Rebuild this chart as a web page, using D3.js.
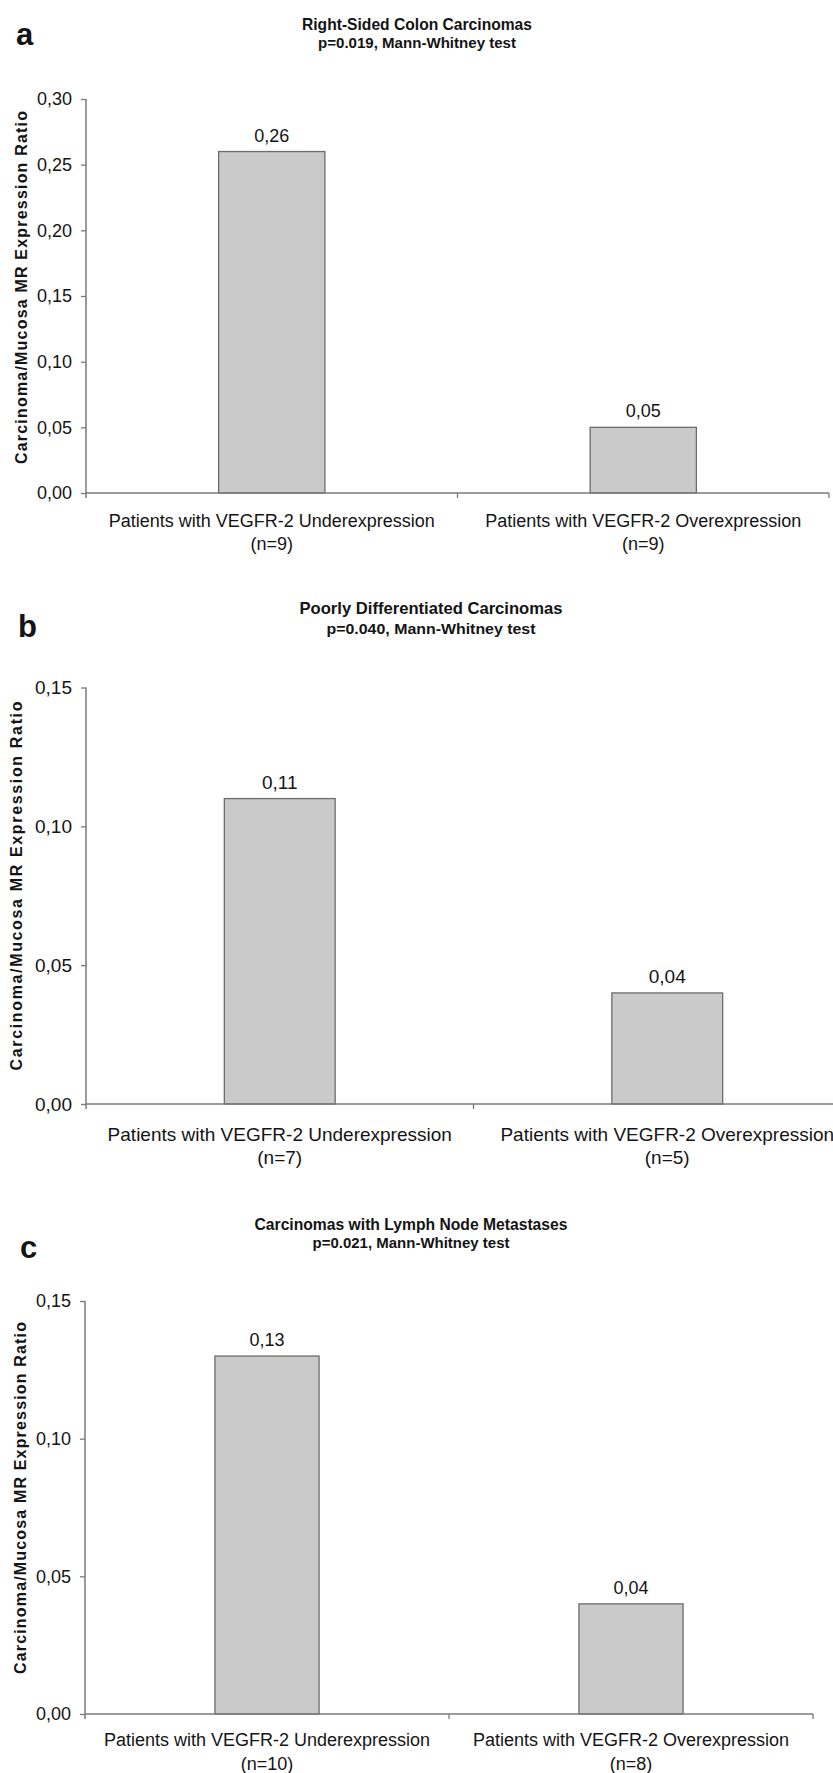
<!DOCTYPE html>
<html>
<head>
<meta charset="utf-8">
<script src="https://cdn.jsdelivr.net/npm/d3@7"></script>
<style>
  html, body { margin: 0; padding: 0; background: #fff; }
  svg { display: block; }
  text { font-family: "Liberation Sans", Arial, Helvetica, sans-serif; fill: #141414; }
</style>
</head>
<body>
<svg id="fig" width="833" height="1773"></svg>
<script>
// ---- data ----
const panelLetters = ["a", "b", "c"];
const panelTitles = [
  "Right-Sided Colon Carcinomas",
  "Poorly Differentiated Carcinomas",
  "Carcinomas with Lymph Node Metastases"
];
const panelTests = [
  "p=0.019, Mann-Whitney test",
  "p=0.040, Mann-Whitney test",
  "p=0.021, Mann-Whitney test"
];
const categories = [
  "Patients with VEGFR-2 Underexpression",
  "Patients with VEGFR-2 Overexpression"
];
const groupSizesA = ["(n=9)", "(n=9)"];
const groupSizesB = ["(n=7)", "(n=5)"];
const groupSizesC = ["(n=10)", "(n=8)"];
const ratiosA = [0.26, 0.05];
const ratiosB = [0.11, 0.04];
const ratiosC = [0.13, 0.04];
const yTicksA = [0, 0.05, 0.10, 0.15, 0.20, 0.25, 0.30];
const yTicksB = [0, 0.05, 0.10, 0.15];
const yTicksC = [0, 0.05, 0.10, 0.15];
const yAxisTitle = "Carcinoma/Mucosa MR Expression Ratio";

// ---- layout of the three stacked panels ----
const layouts = [
  { left: 86, right: 829, top: 99, bottom: 493, titleX: 417, t1: 29.5, t2: 48, tw: [230, 198],
    letterX: 16, letterY: 45, ayX: 27, ayY: 287.5, ayLen: 353, fs: 18, xl1: 33.5, xl2: 56.5 },
  { left: 86, right: 861, top: 687.5, bottom: 1104, titleX: 431, t1: 613.5, t2: 634, tw: [263, 209],
    letterX: 18, letterY: 637, ayX: 22, ayY: 886, ayLen: 369, fs: 19, xl1: 36.5, xl2: 60 },
  { left: 85, right: 813, top: 1301, bottom: 1714, titleX: 411, t1: 1229.5, t2: 1248, tw: [313, 197],
    letterX: 20, letterY: 1258, ayX: 26, ayY: 1498, ayLen: 352, fs: 18, xl1: 32, xl2: 55.5 }
];

const panels = [
  { values: ratiosA, sizes: groupSizesA, ticks: yTicksA },
  { values: ratiosB, sizes: groupSizesB, ticks: yTicksB },
  { values: ratiosC, sizes: groupSizesC, ticks: yTicksC }
];

const svg = d3.select("#fig");
const fmt = d => d3.format(".2f")(d).replace(".", ",");
const axisColor = "#7a7a7a";

panels.forEach((p, i) => {
  const L = layouts[i];
  const g = svg.append("g");

  // panel letter
  g.append("text")
    .attr("x", L.letterX).attr("y", L.letterY)
    .style("font-size", "31px").style("font-weight", "bold")
    .text(panelLetters[i]);

  // two-line heading
  g.append("text")
    .attr("x", L.titleX).attr("y", L.t1)
    .attr("text-anchor", "middle")
    .attr("textLength", L.tw[0]).attr("lengthAdjust", "spacingAndGlyphs")
    .style("font-size", "16.5px").style("font-weight", "bold")
    .text(panelTitles[i]);
  g.append("text")
    .attr("x", L.titleX).attr("y", L.t2)
    .attr("text-anchor", "middle")
    .attr("textLength", L.tw[1]).attr("lengthAdjust", "spacingAndGlyphs")
    .style("font-size", "15.5px").style("font-weight", "bold")
    .text(panelTests[i]);

  // scales
  const x = d3.scaleBand()
    .domain(categories)
    .range([L.left, L.right])
    .paddingInner(0.714)
    .paddingOuter(0.357);
  const y = d3.scaleLinear()
    .domain([0, d3.max(p.ticks)])
    .range([L.bottom, L.top]);

  // bars
  g.selectAll("rect.bar")
    .data(categories)
    .join("rect")
    .attr("class", "bar")
    .attr("x", d => x(d))
    .attr("width", x.bandwidth())
    .attr("y", (d, k) => y(p.values[k]))
    .attr("height", (d, k) => y(0) - y(p.values[k]))
    .attr("fill", "#cacaca")
    .attr("stroke", "#6c6c6c")
    .attr("stroke-width", 1.3);

  // value labels over the bars
  g.selectAll("text.val")
    .data(categories)
    .join("text")
    .attr("class", "val")
    .attr("x", d => x(d) + x.bandwidth() / 2)
    .attr("y", (d, k) => y(p.values[k]) - 10)
    .attr("text-anchor", "middle")
    .style("font-size", L.fs + "px")
    .text((d, k) => fmt(p.values[k]));

  // y axis
  const yAxis = g.append("g")
    .attr("transform", `translate(${L.left},0)`)
    .call(d3.axisLeft(y).tickValues(p.ticks).tickFormat(fmt).tickSize(5).tickSizeOuter(0).tickPadding(9));
  yAxis.select(".domain").remove();
  yAxis.append("line")
    .attr("x1", 0).attr("x2", 0)
    .attr("y1", L.top).attr("y2", L.bottom + 5)
    .attr("stroke", axisColor).attr("stroke-width", 1.5);
  yAxis.selectAll(".tick line").attr("stroke", axisColor).attr("stroke-width", 1.3);
  yAxis.selectAll(".tick text")
    .style("font-size", L.fs + "px")
    .style("font-family", '"Liberation Sans", Arial, sans-serif')
    .attr("fill", "#141414");

  // x axis baseline with category boundary ticks
  const step = x.step();
  const bounds = [x(categories[1]) - (step - x.bandwidth()) / 2, L.right];
  g.append("line")
    .attr("x1", L.left).attr("x2", L.right)
    .attr("y1", y(0)).attr("y2", y(0))
    .attr("stroke", axisColor).attr("stroke-width", 1.5);
  g.selectAll("line.xt")
    .data(bounds)
    .join("line")
    .attr("class", "xt")
    .attr("x1", d => d).attr("x2", d => d)
    .attr("y1", y(0)).attr("y2", y(0) + 5)
    .attr("stroke", axisColor).attr("stroke-width", 1.3);

  // category labels
  g.selectAll("text.cat")
    .data(categories)
    .join("text")
    .attr("class", "cat")
    .attr("x", d => x(d) + x.bandwidth() / 2)
    .attr("y", y(0) + L.xl1)
    .attr("text-anchor", "middle")
    .style("font-size", L.fs + "px")
    .text(d => d);
  g.selectAll("text.n")
    .data(categories)
    .join("text")
    .attr("class", "n")
    .attr("x", d => x(d) + x.bandwidth() / 2)
    .attr("y", y(0) + L.xl2)
    .attr("text-anchor", "middle")
    .style("font-size", L.fs + "px")
    .text((d, k) => p.sizes[k]);

  // y axis title
  g.append("text")
    .attr("transform", `translate(${L.ayX},${L.ayY}) rotate(-90)`)
    .attr("text-anchor", "middle")
    .attr("textLength", L.ayLen).attr("lengthAdjust", "spacing")
    .style("font-size", "16px").style("font-weight", "bold")
    .text(yAxisTitle);
});
</script>
</body>
</html>
